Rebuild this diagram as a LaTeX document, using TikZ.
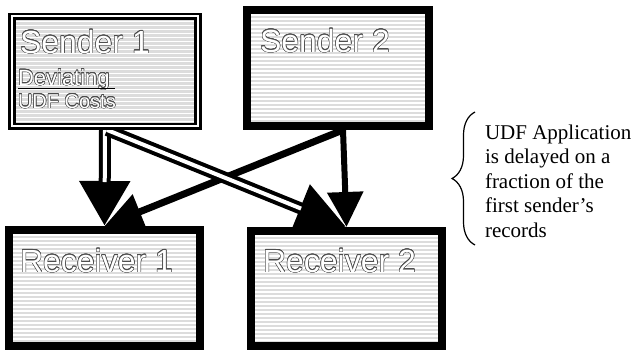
\documentclass[tikz,border=0pt]{standalone}
\usepackage{fontspec}
\setmainfont{Liberation Serif}
\newfontfamily\boxfont{Liberation Sans}
\usepackage{contour}
\contourlength{0.5pt}
\contournumber{16}
\usetikzlibrary{arrows.meta,decorations.pathreplacing}
\definecolor{boxgray}{HTML}{DCDCDC}
\newcommand\hollow[1]{\contour{black!70}{#1}}
\tikzset{
  stripes/.style={fill=boxgray, path picture={
      \foreach \k in {0,...,32}
        \draw[white, line width=1.2pt]
          ([yshift=-\k*4pt-1pt]path picture bounding box.north west) --
          ([yshift=-\k*4pt-1pt]path picture bounding box.north east);}},
  panel/.style={stripes, draw=black, line width=8pt, outer sep=4pt, inner sep=0pt},
  dpanel/.style={stripes, draw=black, double=white, line width=2.5pt,
    double distance=2.3pt, outer sep=3.65pt, inner sep=0pt},
  lbl/.style={anchor=base west, inner sep=0pt, outer sep=0pt},
  boxlbl/.style={lbl, text=white, font=\boxfont\fontsize{32}{36}\selectfont},
  note/.style={lbl, font=\fontsize{21}{24}\selectfont},
  dshaft/.style={draw=black, line width=12pt},
  dcore/.style={draw=white, line width=4pt},
}
\begin{document}
\begin{tikzpicture}[x=1pt,y=-1pt]
\useasboundingbox (0,0) rectangle (636,351);

% connector anchors come from invisible copies of the boxes
\path
  (105,71.3)    node[outer sep=3.65pt, inner sep=0pt, minimum width=186pt,   minimum height=110pt] (s1) {}
  (338,68)      node[outer sep=4pt,    inner sep=0pt, minimum width=181.7pt, minimum height=116pt] (s2) {}
  (104.5,288)   node[outer sep=4pt,    inner sep=0pt, minimum width=191pt,   minimum height=116pt] (r1) {}
  (346.5,288.5) node[outer sep=4pt,    inner sep=0pt, minimum width=191pt,   minimum height=115pt] (r2) {};

% connectors from the second sender
\draw[line width=7pt, -{Triangle[length=38pt,width=36pt]}]
  ([xshift=5pt]s2.south) -- (r1.north);
\draw[line width=6pt, -{Triangle[length=35pt,width=35pt]}]
  ([xshift=5pt]s2.south) -- (r2.north);

% double connectors from the first sender
\draw[dshaft, -{Triangle[length=45pt,width=48pt]}] (s1.south) -- (r1.north);
\draw[dcore, shorten >=44pt] (s1.south) -- (r1.north);
\draw[dshaft, -{Triangle[length=50pt,width=48pt]}] ([xshift=2pt]s1.south) -- (r2.north);
\draw[dcore, shorten >=49pt] ([xshift=2pt]s1.south) -- (r2.north);

% the striped boxes, on top of the connector ends
\path
  (105,71.3)    node[dpanel, minimum width=186pt,   minimum height=110pt] (s1box) {}
  (338,68)      node[panel,  minimum width=181.7pt, minimum height=116pt] (s2box) {}
  (104.5,288)   node[panel,  minimum width=191pt,   minimum height=116pt] (r1box) {}
  (346.5,288.5) node[panel,  minimum width=191pt,   minimum height=115pt] (r2box) {};

% box captions
\node[boxlbl] (t1) at (20,53) {\hollow{Sender 1}};
\node[lbl, text=white, font=\boxfont\fontsize{22}{26}\selectfont] (dev) at (18,85) {\hollow{Deviating}};
\coordinate (ulA) at (18,88.5);
\coordinate (ulB) at (115,88.5);
\draw[line width=1.3pt, black] (ulA) -- (ulB);
\node[lbl, text=white, font=\boxfont\fontsize{20}{24}\selectfont] (cost) at (18,108) {\hollow{UDF Costs}};
\node[boxlbl] (t2) at (260,52) {\hollow{Sender 2}};
\node[boxlbl] (t3) at (20,272) {\hollow{Receiver 1}};
\node[boxlbl] (t4) at (263,272) {\hollow{Receiver 2}};

% brace and note
\coordinate (bb) at (475,245);
\coordinate (bt) at (475,112);
\draw[line width=1.2pt, decorate, decoration={brace, amplitude=23pt}] (bb) -- (bt);
\node[note] (n1) at (485,139) {UDF Application};
\node[note] (n2) at (485,163.5) {is delayed on a};
\node[note] (n3) at (485,188) {fraction of the};
\node[note] (n4) at (485,212.5) {first sender’s};
\node[note] (n5) at (485,237) {records};
\end{tikzpicture}
\end{document}
